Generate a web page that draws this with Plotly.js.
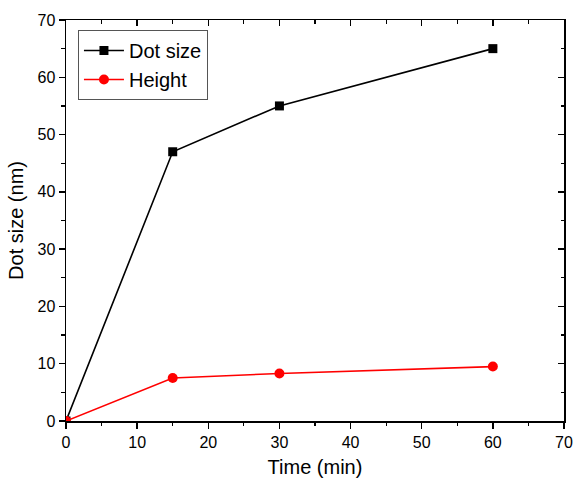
<!DOCTYPE html>
<html>
<head>
<meta charset="utf-8">
<script src="https://cdn.plot.ly/plotly-3.0.1.min.js"></script>
<style>html,body{margin:0;padding:0;background:#fff;}#chart{width:575px;height:484px;}</style>
</head>
<body>
<div id="chart"></div>
<script>
const timeMin = [0, 15, 30, 60];
const dotSize = [0, 47, 55, 65];
const heightNm = [0, 7.5, 8.3, 9.5];
const seriesNames = ['Dot size', 'Height'];

const font = 'Liberation Sans, Arial, sans-serif';

const traces = [
  {x: timeMin, y: dotSize, name: seriesNames[0], type: 'scatter', mode: 'lines+markers',
   line: {color: '#000000', width: 1.6}, marker: {symbol: 'square', size: 9, color: '#000000'}},
  {x: timeMin, y: heightNm, name: seriesNames[1], type: 'scatter', mode: 'lines+markers',
   line: {color: '#ff0000', width: 1.6}, marker: {symbol: 'circle', size: 10, color: '#ff0000'}},
  {x: [0], y: [0], xaxis: 'x2', yaxis: 'y2', mode: 'markers', marker: {opacity: 0}, showlegend: false, hoverinfo: 'skip'}
];

const common = {range: [0, 70], dtick: 10, showgrid: false, zeroline: false, showline: true,
  linecolor: '#000', linewidth: 1.5, ticklen: 6, tickwidth: 1.5, tickcolor: '#000',
  minor: {dtick: 5, ticklen: 3.5, tickwidth: 1.2, tickcolor: '#000', ticks: ''}};

const layout = {
  width: 575, height: 484,
  margin: {l: 66, r: 11, t: 20, b: 63},
  paper_bgcolor: '#fff', plot_bgcolor: '#fff',
  font: {family: font, color: '#000', size: 16},
  showlegend: true,
  legend: {x: 0.024, y: 0.975, xanchor: 'left', yanchor: 'top', bordercolor: '#555', borderwidth: 1,
    bgcolor: 'rgba(255,255,255,0)', font: {size: 20, family: font}, tracegroupgap: 0, itemwidth: 40},
  xaxis: Object.assign({}, common, {ticks: 'outside', minor: Object.assign({}, common.minor, {ticks: 'outside'}),
    title: {text: 'Time (min)', font: {size: 20, family: font}, standoff: 10}, tickfont: {size: 16}}),
  yaxis: Object.assign({}, common, {ticks: 'outside', minor: Object.assign({}, common.minor, {ticks: 'outside'}),
    title: {text: 'Dot size (nm)', font: {size: 20, family: font}, standoff: 8}, tickfont: {size: 16}}),
  xaxis2: Object.assign({}, common, {overlaying: 'x', side: 'top', ticks: 'inside', showticklabels: false,
    minor: Object.assign({}, common.minor, {ticks: 'inside'}), anchor: 'y2'}),
  yaxis2: Object.assign({}, common, {overlaying: 'y', side: 'right', ticks: 'inside', showticklabels: false,
    minor: Object.assign({}, common.minor, {ticks: 'inside'}), anchor: 'x2'})
};

Plotly.newPlot('chart', traces, layout, {displayModeBar: false, staticPlot: true});
</script>
</body>
</html>
